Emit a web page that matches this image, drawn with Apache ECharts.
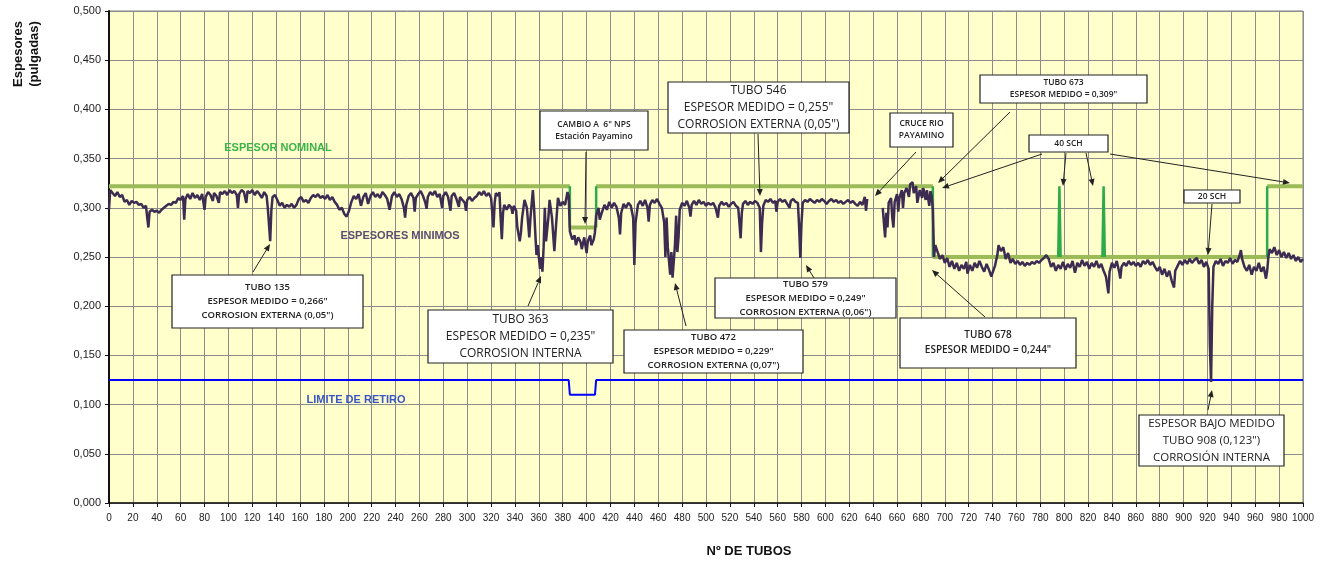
<!DOCTYPE html>
<html>
<head>
<meta charset="utf-8">
<script src="https://cdn.jsdelivr.net/npm/echarts@6/dist/echarts.min.js"></script>
<style>
  html, body { margin: 0; padding: 0; background: #fff; }
  #chart { width: 1327px; height: 562px; }
</style>
</head>
<body>
<div id="chart"></div>
<script>
// espesores minimos medidos [tubo, pulgadas]
const minimos = [
  [0,0.298],[1,0.318],[3,0.315],[5,0.312],[7,0.316],[9,0.311],[11,0.313],[13,0.306],[15,0.308],[17,0.303],[19,0.307],[21,0.305],[23,0.306],[25,0.303],[27,0.304],[29,0.300],[31,0.302],[32,0.290],[33,0.280],[34,0.296],[36,0.298],[38,0.296],[40,0.297],[42,0.295],[44,0.298],[46,0.300],[48,0.302],[50,0.304],[52,0.303],[54,0.306],[56,0.305],[58,0.310],[60,0.308],[62,0.312],[63,0.288],[64,0.309],[66,0.314],[68,0.309],[70,0.315],[72,0.310],[74,0.313],[76,0.308],[78,0.314],[80,0.298],[81,0.311],[83,0.316],[85,0.313],[87,0.307],[88,0.315],[90,0.312],[92,0.305],[93,0.316],[95,0.314],[97,0.317],[99,0.313],[101,0.318],[103,0.315],[105,0.317],[107,0.313],[108,0.300],[109,0.314],[111,0.318],[113,0.316],[115,0.305],[116,0.317],[118,0.315],[120,0.318],[122,0.313],[124,0.317],[126,0.314],[128,0.310],[130,0.316],[132,0.312],[133,0.300],[135,0.266],[136,0.298],[137,0.311],[139,0.313],[141,0.308],[143,0.302],[145,0.305],[147,0.300],[149,0.303],[151,0.301],[153,0.304],[155,0.300],[157,0.303],[159,0.309],[161,0.311],[163,0.306],[165,0.308],[167,0.305],[169,0.310],
  [171,0.313],[173,0.311],[175,0.314],[177,0.310],[179,0.312],[181,0.309],[183,0.313],[185,0.308],[187,0.311],[189,0.306],[191,0.303],[193,0.298],[195,0.300],[197,0.294],[199,0.291],[201,0.297],[203,0.306],[205,0.312],[207,0.309],[209,0.314],[211,0.302],[213,0.311],[215,0.315],[217,0.304],[219,0.312],[221,0.316],[223,0.311],[225,0.314],[227,0.310],[229,0.316],[231,0.313],[233,0.309],[235,0.298],[237,0.312],[239,0.316],[241,0.311],[243,0.314],[245,0.309],[247,0.300],[248,0.290],[249,0.303],[251,0.312],[253,0.315],[255,0.310],[256,0.296],[257,0.310],[259,0.314],[261,0.317],[263,0.312],[265,0.305],[266,0.299],[267,0.311],[269,0.316],[271,0.313],[273,0.317],[275,0.311],[277,0.314],[279,0.300],[280,0.312],[282,0.316],[284,0.311],[286,0.297],[287,0.312],[289,0.315],[291,0.309],[293,0.301],[294,0.311],[296,0.308],[298,0.305],[299,0.297],[300,0.308],[302,0.311],[304,0.307],[306,0.310],[308,0.312],[310,0.316],[312,0.313],[314,0.317],[316,0.312],[318,0.315],[320,0.310],[321,0.295],[322,0.280],[323,0.305],[324,0.315],[326,0.312],[327,0.316],[328,0.290],[329,0.268],[330,0.295],[331,0.303],[333,0.298],
  [335,0.303],[337,0.300],[338,0.294],[339,0.302],[341,0.297],[342,0.280],[344,0.266],[345,0.275],[346,0.290],[348,0.308],[350,0.300],[352,0.270],[353,0.290],[355,0.318],[356,0.300],[357,0.275],[358,0.252],[359,0.262],[361,0.238],[362,0.250],[363,0.235],[364,0.260],[365,0.300],[366,0.266],[368,0.290],[369,0.308],[371,0.290],[373,0.256],[374,0.275],[376,0.310],[378,0.302],[380,0.306],[382,0.303],[384,0.316],[385,0.312],[386,0.276],[388,0.268],[390,0.272],[391,0.262],[393,0.270],[395,0.265],[396,0.258],[398,0.270],[400,0.254],[401,0.266],[403,0.272],[404,0.262],[406,0.268],[407,0.275],[408,0.292],[410,0.300],[411,0.288],[413,0.296],[415,0.303],[417,0.298],[419,0.306],[421,0.300],[423,0.305],[425,0.301],[427,0.290],[428,0.273],[429,0.295],[431,0.304],[433,0.300],[435,0.305],[437,0.302],[439,0.290],[440,0.242],[441,0.285],[443,0.303],[445,0.307],[447,0.302],[449,0.308],[451,0.300],[452,0.286],[453,0.303],[455,0.308],[457,0.305],[459,0.309],[461,0.304],[463,0.300],[465,0.285],[466,0.250],[467,0.290],[468,0.260],[470,0.232],[471,0.255],[472,0.229],[474,0.262],[475,0.292],[476,0.255],[477,0.270],[478,0.298],[480,0.305],[482,0.302],[484,0.307],[486,0.300],[487,0.291],[488,0.303],[490,0.307],[492,0.303],[494,0.308],[496,0.304],[498,0.306],[500,0.302],[502,0.305],
  [504,0.303],[506,0.305],[508,0.300],[510,0.290],[511,0.302],[513,0.306],[515,0.303],[517,0.305],[519,0.301],[521,0.304],[523,0.306],[525,0.302],[527,0.300],[528,0.285],[529,0.269],[530,0.295],[531,0.304],[533,0.307],[535,0.303],[537,0.306],[539,0.304],[541,0.307],[543,0.305],[545,0.300],[546,0.255],[547,0.285],[548,0.302],[550,0.308],[552,0.306],[554,0.309],[556,0.305],[558,0.307],[559,0.296],[560,0.306],[562,0.309],[564,0.306],[566,0.308],[568,0.304],[570,0.300],[571,0.307],[573,0.309],[575,0.306],[577,0.305],[578,0.280],[579,0.249],[580,0.285],[581,0.305],[583,0.308],[585,0.306],[587,0.309],[589,0.307],[591,0.305],[593,0.308],[595,0.306],[597,0.309],[599,0.307],[601,0.304],[603,0.307],[605,0.309],[607,0.306],[609,0.308],[611,0.305],[613,0.307],[615,0.304],[617,0.306],[619,0.308],[621,0.305],[623,0.307],[625,0.304],[627,0.302],[629,0.306],[631,0.303],[633,0.311],[634,0.297],[635,0.309],
  [641,null],
  [648,0.300],[649,0.285],[650,0.270],[651,0.295],[652,0.280],[653,0.305],[655,0.310],[656,0.290],[657,0.280],[658,0.306],[660,0.314],[661,0.296],[662,0.310],[664,0.318],[665,0.300],[666,0.315],[668,0.320],[670,0.311],[671,0.324],[673,0.326],[674,0.315],[676,0.322],[677,0.305],[679,0.318],[681,0.310],[682,0.320],[684,0.308],[685,0.318],[687,0.302],[688,0.317],[689,0.312],[690,0.298],
  [691,0.250],[692,0.262],[694,0.255],[696,0.248],[698,0.252],[700,0.244],[702,0.249],[704,0.240],[706,0.246],[708,0.238],[710,0.244],[712,0.236],[714,0.242],[716,0.238],[718,0.245],[719,0.233],[721,0.242],[723,0.236],[725,0.244],[727,0.239],[729,0.246],[731,0.240],[733,0.235],[735,0.243],[737,0.237],[739,0.230],[740,0.234],[742,0.241],[744,0.252],[745,0.262],[747,0.256],[749,0.260],[751,0.248],[753,0.254],[755,0.244],[757,0.248],[759,0.243],[761,0.246],[763,0.242],[765,0.245],[767,0.241],[769,0.244],[771,0.242],[773,0.245],[775,0.243],[777,0.246],[779,0.244],[781,0.247],[783,0.249],[785,0.252],[787,0.248],[789,0.240],[791,0.244],[793,0.236],[795,0.242],[797,0.238],[799,0.245],[801,0.237],[803,0.243],[805,0.239],[807,0.246],[809,0.234],[811,0.244],[813,0.240],[815,0.247],[817,0.241],[819,0.245],[821,0.238],[823,0.244],[825,0.240],[827,0.246],[829,0.239],[831,0.243],[833,0.236],[835,0.230],[837,0.213],[838,0.235],[840,0.244],[842,0.239],[844,0.246],[846,0.235],[847,0.228],[848,0.240],[850,0.244],[852,0.241],[854,0.246],[856,0.242],[858,0.245],[860,0.241],[862,0.244],[864,0.240],[866,0.246],[868,0.243],[870,0.247],[872,0.242],[874,0.245],[876,0.240],[878,0.236],[880,0.240],[882,0.232],[884,0.238],[886,0.230],[888,0.236],[890,0.226],[892,0.219],[893,0.236],[895,0.241],[897,0.246],[899,0.242],[901,0.247],[903,0.243],[905,0.248],[907,0.244],[909,0.247],[911,0.249],[913,0.243],[915,0.247],[917,0.240],[919,0.245],[921,0.238],[922,0.160],[923,0.123],[924,0.200],[925,0.240],[927,0.246],[929,0.243],[931,0.248],[933,0.241],[935,0.246],[937,0.244],[939,0.249],[941,0.243],[943,0.247],[945,0.245],[947,0.252],[948,0.257],[949,0.248],[951,0.240],[953,0.236],[955,0.242],[957,0.232],[959,0.240],[961,0.236],[963,0.244],[965,0.235],[967,0.240],[969,0.228],[970,0.236],[971,0.250],[972,0.258],[974,0.254],[976,0.260],[978,0.252],[980,0.257],[982,0.250],[984,0.255],[986,0.249],[988,0.254],[990,0.248],[992,0.252],[994,0.246],[996,0.250],[998,0.245],[1000,0.248]
];

// espesor nominal, tramos horizontales
const nominal = [
  [0,0.322],[386,0.322],[386,null],
  [386,0.280],[408,0.280],[408,null],
  [408,0.322],[690,0.322],[690,null],
  [690,0.250],[970,0.250],[970,null],
  [970,0.322],[1000,0.322]
];

// cambios de espesor nominal (tramos verticales y 40 SCH)
const cambios = [
  [386,0.322],[386,0.280],[387,null],
  [408,0.280],[408,0.322],[409,null],
  [690,0.322],[690,0.250],[691,null],
  [795,0.250],[796,0.322],[797,0.250],[798,null],
  [832,0.250],[833,0.322],[834,0.250],[835,null],
  [970,0.250],[970,0.322]
];

// limite de retiro
const limite = [
  [0,0.125],[385,0.125],[386,0.110],[407,0.110],[408,0.125],[1000,0.125]
];

const yTicks = [0, 0.05, 0.1, 0.15, 0.2, 0.25, 0.3, 0.35, 0.4, 0.45, 0.5];

// cuadros de notas: [x1, y1, x2, y2, lineas, tamano de letra, negrita]
const notas = [
  [172, 275, 363, 328, ["TUBO 135", "ESPESOR MEDIDO = 0,266\"", "CORROSION EXTERNA (0,05\")"], 9.5, true],
  [428, 310, 613, 363, ["TUBO 363", "ESPESOR MEDIDO = 0,235\"", "CORROSION INTERNA"], 12, false],
  [540, 111, 648, 150, ["CAMBIO A  6\" NPS", "Estación Payamino"], 8.5, true],
  [668, 82, 849, 133, ["TUBO 546", "ESPESOR MEDIDO = 0,255\"", "CORROSION EXTERNA (0,05\")"], 12, false],
  [624, 330, 803, 373, ["TUBO 472", "ESPESOR MEDIDO = 0,229\"", "CORROSION EXTERNA (0,07\")"], 9.5, true],
  [715, 278, 896, 318, ["TUBO 579", "ESPESOR MEDIDO = 0,249\"", "CORROSION EXTERNA (0,06\")"], 9.5, true],
  [890, 113, 953, 147, ["CRUCE RIO", "PAYAMINO"], 8.5, true],
  [980, 75, 1147, 103, ["TUBO 673", "ESPESOR MEDIDO = 0,309\""], 8.5, true],
  [1029, 135, 1108, 152, ["40 SCH"], 8.5, true],
  [1184, 190, 1240, 203, ["20 SCH"], 8.5, true],
  [900, 318, 1076, 368, ["TUBO 678", "ESPESOR MEDIDO = 0,244\""], 10, true],
  [1139, 415, 1284, 466, ["ESPESOR BAJO MEDIDO", "TUBO 908 (0,123\")", "CORROSIÓN INTERNA"], 11.5, false]
];

// flechas [x desde, y desde, x hasta, y hasta]
const flechas = [
  [253, 272, 270, 244],
  [528, 306, 541, 276],
  [586, 152, 585, 224],
  [758, 134, 760, 196],
  [686, 326, 675, 283],
  [814, 278, 806, 265],
  [916, 152, 875, 196],
  [1010, 112, 938, 183],
  [1042, 154, 942, 188],
  [1066, 153, 1063, 186],
  [1086, 153, 1093, 186],
  [1110, 154, 1290, 183],
  [1212, 204, 1208, 255],
  [985, 317, 932, 270],
  [1208, 410, 1212, 390]
];

const chart = echarts.init(document.getElementById("chart"));

const tickFont = "'Liberation Sans Narrow', 'Arial Narrow', 'Liberation Sans', sans-serif";
const boxFont = "'Open Sans', 'Noto Sans', sans-serif";

function buildGraphics() {
  const g = [];
  notas.forEach(([x1, y1, x2, y2, lines, fs, bold]) => {
    g.push({
      type: "rect",
      shape: { x: x1, y: y1, width: x2 - x1, height: y2 - y1 },
      style: { fill: "#fff", stroke: "#222", lineWidth: 1.2 },
      z: 100,
    });
    g.push({
      type: "text",
      x: (x1 + x2) / 2,
      y: (y1 + y2) / 2,
      style: {
        text: lines.join("\n"),
        font: (bold ? "600 " : "") + fs + "px " + boxFont,
        fill: "#222",
        align: "center",
        verticalAlign: "middle",
        lineHeight: Math.round(fs * 1.45),
      },
      z: 101,
    });
  });
  flechas.forEach(([x1, y1, x2, y2]) => {
    const ang = Math.atan2(y2 - y1, x2 - x1);
    const len = 7, w = 3;
    const bx = x2 - len * Math.cos(ang), by = y2 - len * Math.sin(ang);
    g.push({
      type: "line",
      shape: { x1, y1, x2: bx, y2: by },
      style: { stroke: "#222", lineWidth: 1 },
      z: 102,
    });
    g.push({
      type: "polygon",
      shape: {
        points: [
          [x2, y2],
          [bx + w * Math.sin(ang), by - w * Math.cos(ang)],
          [bx - w * Math.sin(ang), by + w * Math.cos(ang)],
        ],
      },
      style: { fill: "#222" },
      z: 102,
    });
  });
  // textos dentro del grafico
  g.push({
    type: "text", x: 278, y: 148,
    style: { text: "ESPESOR NOMINAL", font: "bold 11px 'Liberation Sans', sans-serif", fill: "#3cb44a", align: "center", verticalAlign: "middle" },
    z: 90,
  });
  g.push({
    type: "text", x: 400, y: 236,
    style: { text: "ESPESORES MINIMOS", font: "bold 11px 'Liberation Sans', sans-serif", fill: "#5c4c72", align: "center", verticalAlign: "middle" },
    z: 90,
  });
  g.push({
    type: "text", x: 356, y: 400,
    style: { text: "LIMITE DE RETIRO", font: "bold 11px 'Liberation Sans', sans-serif", fill: "#3a55c4", align: "center", verticalAlign: "middle" },
    z: 90,
  });
  // nombres de ejes
  g.push({
    type: "text", x: 26, y: 54, rotation: Math.PI / 2,
    style: { text: "Espesores\n(pulgadas)", font: "bold 13px 'Liberation Sans', sans-serif", fill: "#111", align: "center", verticalAlign: "middle", lineHeight: 16 },
  });
  g.push({
    type: "text", x: 749, y: 551,
    style: { text: "Nº DE TUBOS", font: "bold 13px 'Liberation Sans', sans-serif", fill: "#111", align: "center", verticalAlign: "middle" },
  });
  return g;
}

const options = {
  animation: false,
  grid: {
    left: 109,
    right: 24,
    top: 11,
    bottom: 59,
    show: true,
    backgroundColor: "#ffffcc",
    borderColor: "#808080",
    borderWidth: 1,
  },
  xAxis: {
    type: "value",
    min: 0,
    max: 1000,
    interval: 20,
    axisLine: { show: true, onZero: false, lineStyle: { color: "#111", width: 1.5 } },
    axisTick: { show: true, length: 4, lineStyle: { color: "#111" } },
    axisLabel: {
      color: "#222",
      fontSize: 10,
      fontFamily: tickFont,
      margin: 10,
      formatter: (v) => String(Math.round(v)),
    },
    splitLine: { show: true, lineStyle: { color: "#8c8c8c", width: 1 } },
  },
  yAxis: {
    type: "value",
    min: 0,
    max: 0.5,
    interval: 0.05,
    axisLine: { show: true, onZero: false, lineStyle: { color: "#111", width: 2 } },
    axisTick: { show: true, length: 4, lineStyle: { color: "#111" } },
    axisLabel: {
      color: "#222",
      fontSize: 11,
      fontFamily: tickFont,
      margin: 8,
      formatter: (v) => {
        const t = yTicks.find((k) => Math.abs(k - v) < 1e-6);
        return (t === undefined ? v : t).toFixed(3).replace(".", ",");
      },
    },
    splitLine: { show: true, lineStyle: { color: "#8c8c8c", width: 1 } },
  },
  series: [
    {
      name: "LIMITE DE RETIRO",
      type: "line",
      data: limite,
      symbol: "none",
      lineStyle: { color: "#0000ff", width: 2 },
      z: 3,
    },
    {
      name: "ESPESOR NOMINAL",
      type: "line",
      data: nominal,
      symbol: "none",
      connectNulls: false,
      lineStyle: { color: "#9bbb59", width: 4 },
      z: 4,
    },
    {
      name: "CAMBIOS",
      type: "line",
      data: cambios,
      symbol: "none",
      connectNulls: false,
      lineStyle: { color: "#2eaa4a", width: 2.5 },
      z: 4,
    },
    {
      name: "ESPESORES MINIMOS",
      type: "line",
      data: minimos,
      symbol: "none",
      connectNulls: false,
      lineStyle: { color: "#3d2b52", width: 2.5 },
      z: 5,
    },
  ],
  graphic: buildGraphics(),
};

chart.setOption(options);

window.addEventListener("resize", () => {
  chart.resize();
});
</script>
</body>
</html>
